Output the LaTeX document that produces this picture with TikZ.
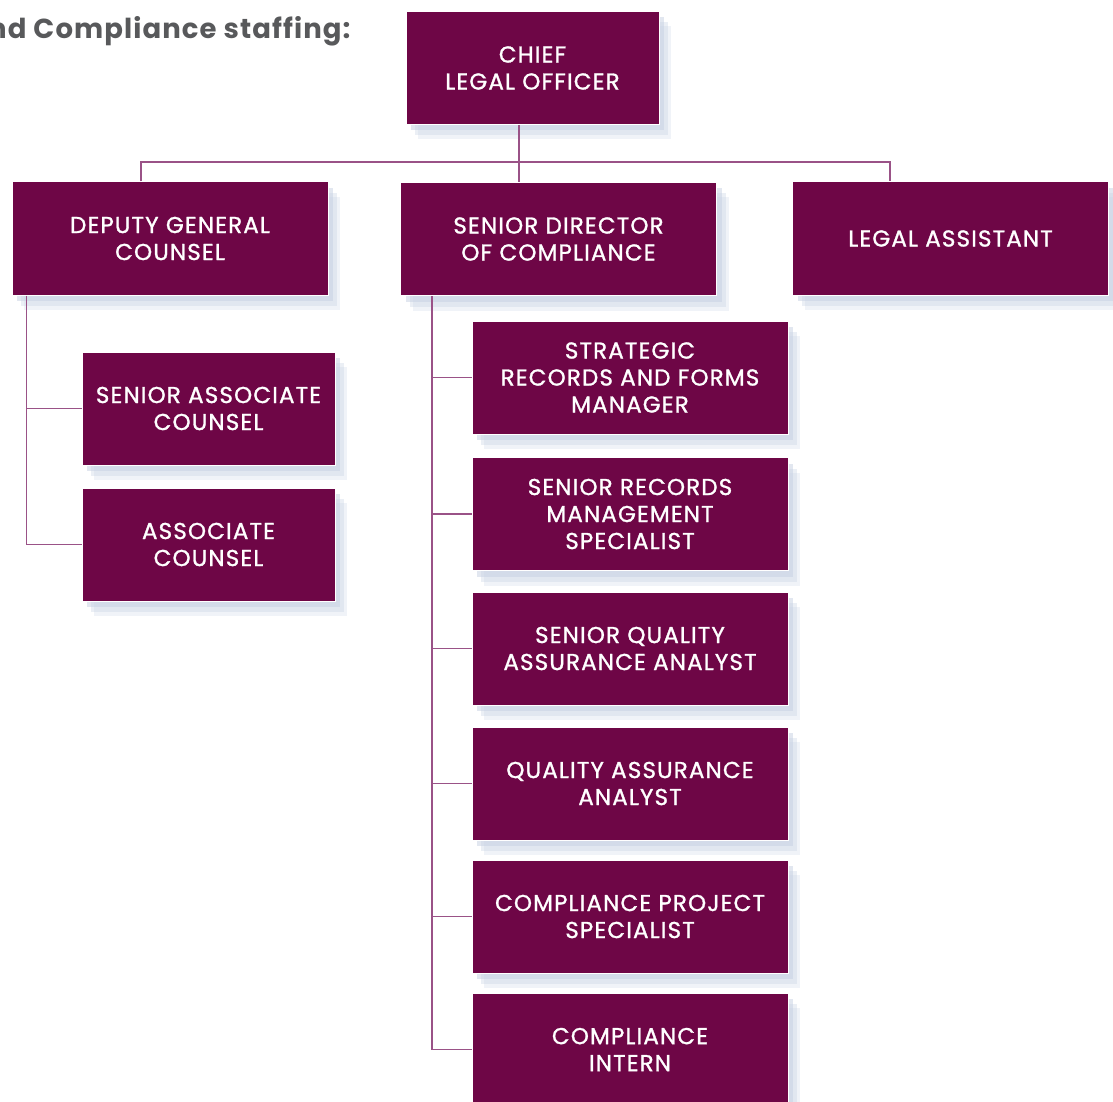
\documentclass[tikz,border=0pt]{standalone}
\usepackage{fontspec}
\setmainfont{Poppins}
\newfontfamily\boxfont{Poppins}[FakeBold=1.2, LetterSpace=5]
\newfontfamily\headfont{Poppins}[LetterSpace=4]
\usetikzlibrary{shadows}
\definecolor{plum}{HTML}{6E0646}
\definecolor{wire}{HTML}{9A5287}
\definecolor{haze}{HTML}{C5D0E2}
\definecolor{heading}{HTML}{58595B}
\tikzset{
  post/.style={fill=plum, draw=white, line width=1pt, text=white, align=center,
    inner sep=0pt, minimum height=113pt, font=\boxfont\fontsize{23}{27}\selectfont,
    drop shadow={shadow xshift=12pt, shadow yshift=-15pt, fill=haze, opacity=.25},
    drop shadow={shadow xshift=9pt, shadow yshift=-11pt, fill=haze, opacity=.35},
    drop shadow={shadow xshift=5pt, shadow yshift=-6pt, fill=haze, opacity=.5}},
  wide/.style={post, minimum width=316pt},
  narrow/.style={post, minimum width=253pt},
  link/.style={draw=wire, line width=1.3pt}
}

\begin{document}
\begin{tikzpicture}[x=1pt,y=-1pt]
            \path[use as bounding box, clip](0, 0)rectangle(1113, 1102);
            \node[anchor=base east, text=heading, font=\headfont\bfseries\fontsize{27.5}{30}\selectfont](heading) at (354, 39){nd Compliance staffing:};
            % top row
            \node[narrow](clo) at (532.5, 68){CHIEF\\LEGAL OFFICER};
            \node[wide](dgc) at (170, 238.5){DEPUTY GENERAL\\COUNSEL};
            \node[wide](sdc) at (558.5, 239){SENIOR DIRECTOR\\OF COMPLIANCE};
            \node[wide](la) at (950.5, 238.5){LEGAL ASSISTANT};
            % counsel
            \node[narrow](sac) at (208.5, 408.5){SENIOR ASSOCIATE\\COUNSEL};
            \node[narrow](ac) at (208.5, 544.5){ASSOCIATE\\COUNSEL};
            % compliance
            \node[wide](srfm) at (630, 377.5){STRATEGIC\\RECORDS AND FORMS\\MANAGER};
            \node[wide](srms) at (630, 514){SENIOR RECORDS\\MANAGEMENT\\SPECIALIST};
            \node[wide](sqaa) at (630, 648.5){SENIOR QUALITY\\ASSURANCE ANALYST};
            \node[wide](qaa) at (630, 783.5){QUALITY ASSURANCE\\ANALYST};
            \node[wide](cps) at (630, 916.5){COMPLIANCE PROJECT\\SPECIALIST};
            \node[wide](ci) at (630, 1049.5){COMPLIANCE\\INTERN};
            % links
            \coordinate(bus) at (519, 162);
            \draw[link]([xshift=-13.5]clo.south)--([xshift=-39.5]sdc.north);
            \draw[link]([xshift=-29]dgc.north)|-(bus)-|([xshift=-60.5]la.north);
            \draw[link]([xshift=15]dgc.south west)|-(ac.west);
            \draw[link](sac.west)--++(-55, 0);
            \draw[link]([xshift=32]sdc.south west)|-(ci.west);
            \draw[link](srfm.west)--++(-39, 0);
            \draw[link](srms.west)--++(-39, 0);
            \draw[link](sqaa.west)--++(-39, 0);
            \draw[link](qaa.west)--++(-39, 0);
            \draw[link](cps.west)--++(-39, 0);
        \end{tikzpicture}
\end{document}
